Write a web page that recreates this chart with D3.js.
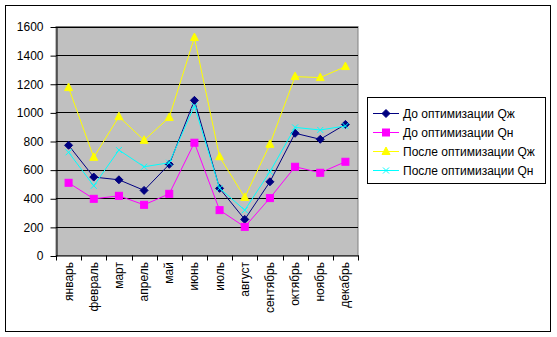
<!DOCTYPE html>
<html><head><meta charset="utf-8">
<script src="https://cdn.jsdelivr.net/npm/d3@7"></script>
<style>body{margin:0;background:#fff}svg{display:block}text{font-family:"Liberation Sans",Arial,sans-serif}</style>
</head><body><svg id="c" width="557" height="337"></svg>
<script>
const months = ["январь","февраль","март","апрель","май","июнь","июль","август","сентябрь","октябрь","ноябрь","декабрь"];
const beforeQzh = [770,548,529,455,637,1084,469,252,515,854,812,916];
const beforeQn  = [508,396,417,354,431,788,317,200,401,620,578,655];
const afterQzh  = [1173,686,970,805,965,1523,690,406,777,1250,1243,1320];
const afterQn   = [721,487,737,620,648,1045,470,317,585,895,877,905];
const yTicks = [0,200,400,600,800,1000,1200,1400,1600];
const seriesNames = ["До оптимизации Qж","До оптимизации Qн","После оптимизации Qж","После оптимизации Qн"];

const series = [
  {name: seriesNames[0], values: beforeQzh, color: "#000080", marker: "diamond"},
  {name: seriesNames[1], values: beforeQn,  color: "#FF00FF", marker: "square"},
  {name: seriesNames[2], values: afterQzh,  color: "#FFFF00", marker: "triangle"},
  {name: seriesNames[3], values: afterQn,   color: "#00FFFF", marker: "x"}
];

const svg = d3.select("#c");
const L = 56, R = 358, T = 26.5, B = 255.5;
const x = d3.scaleBand().domain(months).range([L, R]);
const y = d3.scaleLinear().domain([0,1600]).range([B, T]);

// outer border
svg.append("rect").attr("x",5.5).attr("y",5.5).attr("width",545).attr("height",326)
  .attr("fill","#fff").attr("stroke","#000").attr("stroke-width",1);

// plot area
svg.append("rect").attr("x",L).attr("y",T).attr("width",R-L).attr("height",B-T)
  .attr("fill","#C0C0C0").attr("stroke","#808080").attr("stroke-width",1);

// gridlines
svg.append("g").selectAll("line").data(yTicks.slice(1)).join("line")
  .attr("x1",L).attr("x2",R).attr("y1",d=>Math.round(y(d))+0.5).attr("y2",d=>Math.round(y(d))+0.5)
  .attr("stroke","#000").attr("stroke-width",1);

// y axis
const yAxis = d3.axisLeft(y).tickValues(yTicks).tickFormat(d3.format("d")).tickSize(6).tickSizeOuter(0).tickPadding(7);
const gy = svg.append("g").attr("transform",`translate(${L+0.5},0.5)`).call(yAxis);
gy.selectAll("path,line").attr("stroke","#000");
gy.selectAll("text").attr("font-size",12).attr("fill","#000").attr("font-family","Liberation Sans, Arial, sans-serif");

// x axis
svg.append("line").attr("x1",L).attr("x2",R+1).attr("y1",B+0.5).attr("y2",B+0.5).attr("stroke","#000");
const bounds = months.map(m=>x(m)).concat([x(months[months.length-1])+x.bandwidth()]);
svg.append("g").selectAll("line").data(bounds).join("line")
  .attr("x1",d=>Math.round(d)+0.5).attr("x2",d=>Math.round(d)+0.5)
  .attr("y1",B).attr("y2",B+5).attr("stroke","#000");
svg.append("g").selectAll("text").data(months).join("text")
  .attr("transform",d=>`translate(${x(d)+x.bandwidth()/2+4},262) rotate(-90)`)
  .attr("text-anchor","end").attr("font-size",12).attr("fill","#000").text(d=>d);

// markers
function drawMarker(g, type, color, cx, cy) {
  if (type === "diamond") {
    g.append("path").attr("d",`M${cx},${cy-4}L${cx+4},${cy}L${cx},${cy+4}L${cx-4},${cy}Z`)
      .attr("fill",color).attr("stroke",color);
  } else if (type === "square") {
    g.append("rect").attr("x",cx-3.5).attr("y",cy-3.5).attr("width",7).attr("height",7)
      .attr("fill",color).attr("stroke",color);
  } else if (type === "triangle") {
    g.append("path").attr("d",`M${cx},${cy-4.5}L${cx+4},${cy+3}L${cx-4},${cy+3}Z`)
      .attr("fill",color).attr("stroke",color);
  } else {
    g.append("path").attr("d",`M${cx-3},${cy-3}L${cx+3},${cy+3}M${cx-3},${cy+3}L${cx+3},${cy-3}`)
      .attr("stroke",color).attr("stroke-width",1).attr("fill","none");
  }
}

const line = d3.line().x((d,i)=>x(months[i])+x.bandwidth()/2).y(d=>y(d));
series.forEach(s=>{
  const g = svg.append("g");
  g.append("path").datum(s.values).attr("d",line).attr("fill","none")
    .attr("stroke",s.color).attr("stroke-width",1);
  s.values.forEach((v,i)=>drawMarker(g, s.marker, s.color, x(months[i])+x.bandwidth()/2, y(v)));
});

// legend
const lg = svg.append("g");
lg.append("rect").attr("x",367.5).attr("y",97.5).attr("width",178).attr("height",86)
  .attr("fill","#fff").attr("stroke","#000");
series.forEach((s,i)=>{
  const ly = 113 + i*19;
  lg.append("line").attr("x1",373).attr("x2",399).attr("y1",ly+0.5).attr("y2",ly+0.5).attr("stroke",s.color);
  drawMarker(lg, s.marker, s.color, 386, ly+0.5);
  lg.append("text").attr("x",403).attr("y",ly+4.5).attr("font-size",12).attr("fill","#000").text(s.name);
});
</script></body></html>
